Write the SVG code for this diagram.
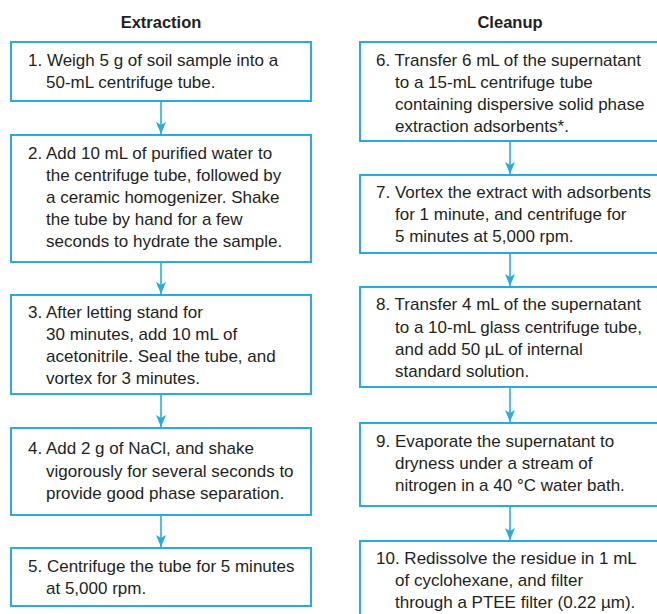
<svg xmlns="http://www.w3.org/2000/svg" width="657" height="614" viewBox="0 0 657 614">
<style>
.box{fill:#fff;stroke:#29abe2;stroke-width:2}
.t{font-family:"Liberation Sans",Arial,sans-serif;font-size:17px;fill:#231f20}
.h{font-family:"Liberation Sans",Arial,sans-serif;font-size:16.5px;font-weight:bold;fill:#231f20;text-anchor:middle}
.c{stroke:#29abe2;stroke-width:1.6;fill:none}
</style>
<defs>
<marker id="ah" markerUnits="userSpaceOnUse" markerWidth="12" markerHeight="10" refX="12" refY="5" orient="auto" viewBox="0 0 12 10">
<path d="M0,0 L12,5 L0,10 L3,5 Z" fill="#29abe2"/>
</marker>
</defs>
<rect width="657" height="614" fill="#fff"/>
<text class="h" x="161" y="28">Extraction</text>
<text class="h" x="510" y="28">Cleanup</text>
<g id="connectors">
<line class="c" x1="161" y1="101" x2="161" y2="134" marker-end="url(#ah)"/>
<line class="c" x1="161" y1="262" x2="161" y2="294" marker-end="url(#ah)"/>
<line class="c" x1="161" y1="394" x2="161" y2="427" marker-end="url(#ah)"/>
<line class="c" x1="161" y1="515" x2="161" y2="547" marker-end="url(#ah)"/>
<line class="c" x1="510" y1="141" x2="510" y2="174" marker-end="url(#ah)"/>
<line class="c" x1="510" y1="253" x2="510" y2="286" marker-end="url(#ah)"/>
<line class="c" x1="510" y1="387" x2="510" y2="422" marker-end="url(#ah)"/>
<line class="c" x1="510" y1="506" x2="510" y2="540" marker-end="url(#ah)"/>
</g>
<g id="n1"><rect class="box" x="11" y="42" width="300" height="59"/>
<text class="t"><tspan x="28" y="66">1. Weigh 5 g of soil sample into a</tspan><tspan x="46" y="88">50-mL centrifuge tube.</tspan></text></g>
<g id="n2"><rect class="box" x="11" y="135" width="300" height="127"/>
<text class="t"><tspan x="28" y="159">2. Add 10 mL of purified water to</tspan><tspan x="46" y="181">the centrifuge tube, followed by</tspan><tspan x="46" y="203">a ceramic homogenizer. Shake</tspan><tspan x="46" y="225">the tube by hand for a few</tspan><tspan x="46" y="247">seconds to hydrate the sample.</tspan></text></g>
<g id="n3"><rect class="box" x="11" y="295" width="300" height="99"/>
<text class="t"><tspan x="28" y="318">3. After letting stand for</tspan><tspan x="46" y="340">30 minutes, add 10 mL of</tspan><tspan x="46" y="362">acetonitrile. Seal the tube, and</tspan><tspan x="46" y="384">vortex for 3 minutes.</tspan></text></g>
<g id="n4"><rect class="box" x="11" y="428" width="300" height="87"/>
<text class="t"><tspan x="28" y="454">4. Add 2 g of NaCl, and shake</tspan><tspan x="46" y="477">vigorously for several seconds to</tspan><tspan x="46" y="499">provide good phase separation.</tspan></text></g>
<g id="n5"><rect class="box" x="11" y="548" width="300" height="58"/>
<text class="t"><tspan x="28" y="572">5. Centrifuge the tube for 5 minutes</tspan><tspan x="46" y="594">at 5,000 rpm.</tspan></text></g>
<g id="n6"><rect class="box" x="360" y="42" width="300" height="99"/>
<text class="t"><tspan x="376" y="66">6. Transfer 6 mL of the supernatant</tspan><tspan x="395" y="88">to a 15-mL centrifuge tube</tspan><tspan x="395" y="110">containing dispersive solid phase</tspan><tspan x="395" y="132">extraction adsorbents*.</tspan></text></g>
<g id="n7"><rect class="box" x="360" y="175" width="300" height="78"/>
<text class="t"><tspan x="376" y="198">7. Vortex the extract with adsorbents</tspan><tspan x="395" y="220">for 1 minute, and centrifuge for</tspan><tspan x="395" y="242">5 minutes at 5,000 rpm.</tspan></text></g>
<g id="n8"><rect class="box" x="360" y="287" width="300" height="100"/>
<text class="t"><tspan x="376" y="310">8. Transfer 4 mL of the supernatant</tspan><tspan x="395" y="333">to a 10-mL glass centrifuge tube,</tspan><tspan x="395" y="355">and add 50 µL of internal</tspan><tspan x="395" y="377">standard solution.</tspan></text></g>
<g id="n9"><rect class="box" x="360" y="423" width="300" height="83"/>
<text class="t"><tspan x="376" y="447">9. Evaporate the supernatant to</tspan><tspan x="395" y="469">dryness under a stream of</tspan><tspan x="395" y="491">nitrogen in a 40 °C water bath.</tspan></text></g>
<g id="n10"><rect class="box" x="360" y="541" width="300" height="80"/>
<text class="t"><tspan x="376" y="564">10. Redissolve the residue in 1 mL</tspan><tspan x="395" y="586">of cyclohexane, and filter</tspan><tspan x="395" y="608">through a PTEE filter (0.22 µm).</tspan></text></g>
</svg>
